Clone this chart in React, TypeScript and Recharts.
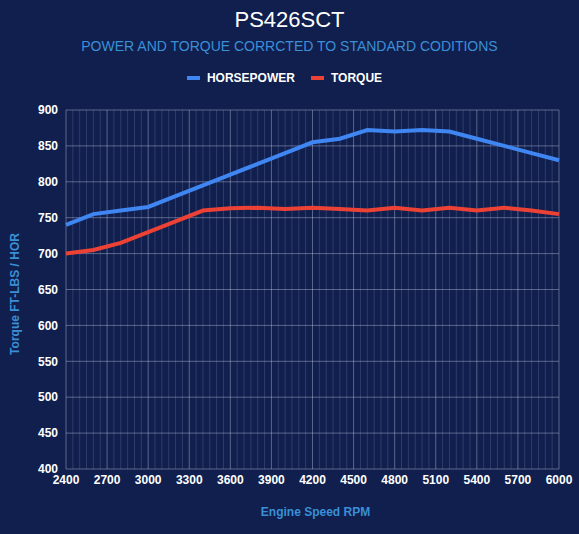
import React from 'react';
import { LineChart, Line, XAxis, YAxis, CartesianGrid, ReferenceLine } from 'recharts';

const rpm = [2400, 2600, 2800, 3000, 3200, 3400, 3600, 3800, 4000, 4200, 4400, 4600, 4800, 5000, 5200, 5400, 5600, 5800, 6000];
const horsepower = [740, 755, 760, 765, 780, 795, 810, 825, 840, 855, 860, 872, 870, 872, 870, 860, 850, 840, 830];
const torque = [700, 705, 715, 730, 745, 760, 763, 764, 762, 764, 762, 760, 764, 760, 764, 760, 764, 760, 755];

const xTicks = [2400, 2700, 3000, 3300, 3600, 3900, 4200, 4500, 4800, 5100, 5400, 5700, 6000];
const yTicks = [400, 450, 500, 550, 600, 650, 700, 750, 800, 850, 900];
const minorStep = 50;

const series = [
  { key: 'hp', name: 'HORSEPOWER', color: '#3f86f2' },
  { key: 'tq', name: 'TORQUE', color: '#ec4236' },
];

const data = rpm.map((r, i) => ({ rpm: r, hp: horsepower[i], tq: torque[i] }));
const minorTicks: number[] = [];
for (let v = xTicks[0]; v <= xTicks[xTicks.length - 1]; v += minorStep) {
  if (!xTicks.includes(v)) minorTicks.push(v);
}

const BG = '#101f4e';
const FONT = '"Liberation Sans", Arial, sans-serif';
const tickStyle = { fill: '#ffffff', fontSize: 12, fontWeight: 700, fontFamily: FONT };

const App: React.FC = () => {
  return (
    <div style={{ position: 'fixed', left: 0, top: 0, width: 579, height: 534, background: BG, fontFamily: FONT }}>
      <div style={{ position: 'absolute', top: 7, width: '100%', textAlign: 'center', color: '#fff', fontSize: 22 }}>
        PS426SCT
      </div>
      <div style={{ position: 'absolute', top: 38, width: '100%', textAlign: 'center', color: '#3b8fd6', fontSize: 14 }}>
        POWER AND TORQUE CORRCTED TO STANDARD CODITIONS
      </div>
      <div style={{ position: 'absolute', top: 71, left: -5, width: '100%', display: 'flex', justifyContent: 'center', gap: 16 }}>
        {series.map(s => (
          <div key={s.key} style={{ display: 'flex', alignItems: 'center', color: '#fff', fontSize: 12, fontWeight: 700 }}>
            <span style={{ display: 'inline-block', width: 13, height: 4, background: s.color, marginRight: 7 }} />
            {s.name}
          </div>
        ))}
      </div>
      <LineChart width={579} height={534} data={data} margin={{ top: 110, right: 20, bottom: 35, left: 26 }}>
        <CartesianGrid stroke="rgba(210,218,240,0.38)" />
        {minorTicks.map(v => (
          <ReferenceLine key={v} x={v} stroke="rgba(200,210,235,0.17)" strokeWidth={1} />
        ))}
        <XAxis
          dataKey="rpm"
          type="number"
          domain={[2400, 6000]}
          ticks={xTicks}
          axisLine={false}
          tickLine={false}
          tickSize={4}
          tick={tickStyle}
          height={30}
        />
        <YAxis
          domain={[400, 900]}
          ticks={yTicks}
          axisLine={false}
          tickLine={false}
          tick={tickStyle}
          width={40}
        />
        {series.map(s => (
          <Line
            key={s.key}
            type="linear"
            dataKey={s.key}
            name={s.name}
            stroke={s.color}
            strokeWidth={4}
            dot={false}
            isAnimationActive={false}
          />
        ))}
      </LineChart>
      <div style={{ position: 'absolute', top: 505, width: '100%', paddingLeft: 52, boxSizing: 'border-box', textAlign: 'center', color: '#3b8fd6', fontSize: 12, fontWeight: 700 }}>
        Engine Speed RPM
      </div>
      <div style={{ position: 'absolute', left: 15, top: 294, transform: 'translate(-50%, -50%) rotate(-90deg)', whiteSpace: 'nowrap', color: '#3b8fd6', fontSize: 12, fontWeight: 700 }}>
        Torque FT-LBS / HOR
      </div>
    </div>
  );
};

export default App;
